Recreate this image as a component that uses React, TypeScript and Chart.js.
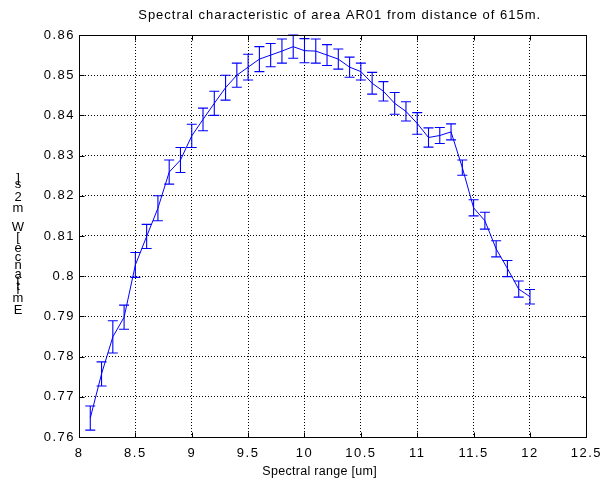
import React, { useEffect, useRef } from "react";
import { Chart, registerables } from "chart.js";

Chart.register(...registerables);

const TITLE = "Spectral characteristic of area AR01 from distance of 615m.";
const X_LABEL = "Spectral range [um]";
const Y_LABEL = "Emittance [W m2 s]";

const wavelengths = [
  8.1, 8.2, 8.3, 8.4, 8.5, 8.6, 8.7, 8.8, 8.9, 9.0,
  9.1, 9.2, 9.3, 9.4, 9.5, 9.6, 9.7, 9.8, 9.9, 10.0,
  10.1, 10.2, 10.3, 10.4, 10.5, 10.6, 10.7, 10.8, 10.9, 11.0,
  11.1, 11.2, 11.3, 11.4, 11.5, 11.6, 11.7, 11.8, 11.9, 12.0,
];

const emittance = [
  0.7647, 0.7757, 0.7849, 0.7898, 0.8028, 0.8099, 0.8169, 0.8259, 0.8289, 0.8349,
  0.839, 0.843, 0.8469, 0.85, 0.852, 0.854, 0.855, 0.856, 0.8571, 0.8561,
  0.856, 0.855, 0.854, 0.852, 0.8509, 0.848, 0.846, 0.843, 0.841, 0.838,
  0.8345, 0.835, 0.8359, 0.827, 0.817, 0.8138, 0.8068, 0.8019, 0.7968, 0.7949,
];

const errors = [
  0.003, 0.003, 0.004, 0.003, 0.0031, 0.003, 0.0031, 0.003, 0.0031, 0.0029,
  0.0028, 0.003, 0.0031, 0.003, 0.0032, 0.0031, 0.0029, 0.003, 0.0029, 0.003,
  0.003, 0.0026, 0.0025, 0.0025, 0.0021, 0.0027, 0.0024, 0.0027, 0.0024, 0.0027,
  0.0024, 0.002, 0.002, 0.0019, 0.002, 0.0021, 0.002, 0.002, 0.002, 0.0018,
];

const X_MIN = 8;
const X_MAX = 12.5;
const X_STEP = 0.5;
const Y_MIN = 0.76;
const Y_MAX = 0.86;
const Y_STEP = 0.01;

const LINE_COLOR = "#0000ff";
const FONT_FAMILY = '"Liberation Sans", Arial, Helvetica, sans-serif';

const fmt = (v: number) => String(Number(v.toFixed(3)));

const errorBarPlugin = {
  id: "errorBars",
  afterDatasetsDraw(chart: any) {
    const { ctx } = chart;
    const xs = chart.scales.x;
    const ys = chart.scales.y;
    const cap = 5;
    ctx.save();
    ctx.strokeStyle = LINE_COLOR;
    ctx.lineWidth = 1.1;
    for (let i = 0; i < wavelengths.length; i++) {
      const x = xs.getPixelForValue(wavelengths[i]);
      const yt = ys.getPixelForValue(emittance[i] + errors[i]);
      const yb = ys.getPixelForValue(emittance[i] - errors[i]);
      ctx.beginPath();
      ctx.moveTo(x, yt);
      ctx.lineTo(x, yb);
      ctx.moveTo(x - cap, yt);
      ctx.lineTo(x + cap, yt);
      ctx.moveTo(x - cap, yb);
      ctx.lineTo(x + cap, yb);
      ctx.stroke();
    }
    ctx.restore();
  },
};

const framePlugin = {
  id: "frame",
  beforeDraw(chart: any) {
    (chart.ctx as any).letterSpacing = "1.5px";
  },
  afterDraw(chart: any) {
    const { ctx, chartArea } = chart;
    const { left, right, top, bottom } = chartArea;
    const xs = chart.scales.x;
    const ys = chart.scales.y;
    ctx.save();
    (ctx as any).letterSpacing = "0px";
    ctx.strokeStyle = "#000";
    ctx.lineWidth = 1;
    const L = Math.round(left) + 0.5;
    const R = Math.round(right) + 0.5;
    const T = Math.round(top) + 0.5;
    const B = Math.round(bottom) + 0.5;
    ctx.beginPath();
    ctx.rect(L, T, R - L, B - T);
    const tl = 5;
    xs.ticks.forEach((t: any) => {
      const x = Math.round(xs.getPixelForValue(t.value)) + 0.5;
      ctx.moveTo(x, B);
      ctx.lineTo(x, B - tl);
      ctx.moveTo(x, T);
      ctx.lineTo(x, T + tl);
    });
    ys.ticks.forEach((t: any) => {
      const y = Math.round(ys.getPixelForValue(t.value)) + 0.5;
      ctx.moveTo(L, y);
      ctx.lineTo(L + tl, y);
      ctx.moveTo(R, y);
      ctx.lineTo(R - tl, y);
    });
    ctx.stroke();

    ctx.fillStyle = "#000";
    // title
    (ctx as any).letterSpacing = "1px";
    ctx.font = `13px ${FONT_FAMILY}`;
    ctx.textAlign = "center";
    ctx.textBaseline = "alphabetic";
    ctx.fillText(TITLE, (left + right) / 2 + 7, top - 16);

    // x label
    (ctx as any).letterSpacing = "0.3px";
    ctx.font = `12.5px ${FONT_FAMILY}`;
    ctx.fillText(X_LABEL, (left + right) / 2 - 13, bottom + 38);

    // y label: upright glyphs stacked bottom-to-top
    (ctx as any).letterSpacing = "0px";
    ctx.font = `13px ${FONT_FAMILY}`;
    ctx.textBaseline = "middle";
    const chars = Array.from(Y_LABEL);
    const widths = chars.map((c) => ctx.measureText(c).width);
    const total = widths.reduce((a, b) => a + b, 0);
    const span = 140;
    const k = span / total;
    const centerY = (top + bottom) / 2 + 10;
    let pos = centerY + span / 2;
    chars.forEach((c, i) => {
      const y = pos - (widths[i] * k) / 2;
      if (c !== " ") ctx.fillText(c, 18, y);
      pos -= widths[i] * k;
    });
    ctx.restore();
    (ctx as any).letterSpacing = "0px";
  },
};

export default function App() {
  const canvasRef = useRef<HTMLCanvasElement | null>(null);

  useEffect(() => {
    if (!canvasRef.current) return;
    Chart.defaults.color = "#000";
    Chart.defaults.font.family = FONT_FAMILY;
    const chart = new Chart(canvasRef.current, {
      type: "line",
      data: {
        datasets: [
          {
            data: wavelengths.map((x, i) => ({ x, y: emittance[i] })),
            borderColor: LINE_COLOR,
            backgroundColor: LINE_COLOR,
            borderWidth: 1,
            pointRadius: 0,
            tension: 0,
            fill: false,
          },
        ],
      },
      options: {
        animation: false,
        responsive: true,
        maintainAspectRatio: false,
        layout: { padding: { left: 0, right: 18, top: 35, bottom: 0 } },
        plugins: {
          legend: { display: false },
          title: { display: false },
          tooltip: { enabled: false },
        },
        scales: {
          x: {
            type: "linear",
            min: X_MIN,
            max: X_MAX,
            afterFit: (s: any) => {
              s.height = 46;
            },
            ticks: {
              stepSize: X_STEP,
              padding: 9,
              maxRotation: 0,
              autoSkip: false,
              font: { size: 13 },
              color: "#000",
              callback: (v: any) => fmt(Number(v)),
            },
            grid: { color: "#000", lineWidth: 1, drawTicks: false },
            border: { display: false, dash: [1, 2] },
          },
          y: {
            type: "linear",
            min: Y_MIN,
            max: Y_MAX,
            afterFit: (s: any) => {
              s.width = 79;
            },
            ticks: {
              stepSize: Y_STEP,
              padding: 4,
              autoSkip: false,
              font: { size: 13 },
              color: "#000",
              callback: (v: any) => fmt(Number(v)),
            },
            grid: { color: "#000", lineWidth: 1, drawTicks: false },
            border: { display: false, dash: [1, 2] },
          },
        },
      },
      plugins: [errorBarPlugin, framePlugin],
    });
    return () => chart.destroy();
  }, []);

  return (
    <div style={{ position: "absolute", left: 0, top: 0, width: 608, height: 483, background: "#fff" }}>
      <canvas ref={canvasRef} />
    </div>
  );
}
